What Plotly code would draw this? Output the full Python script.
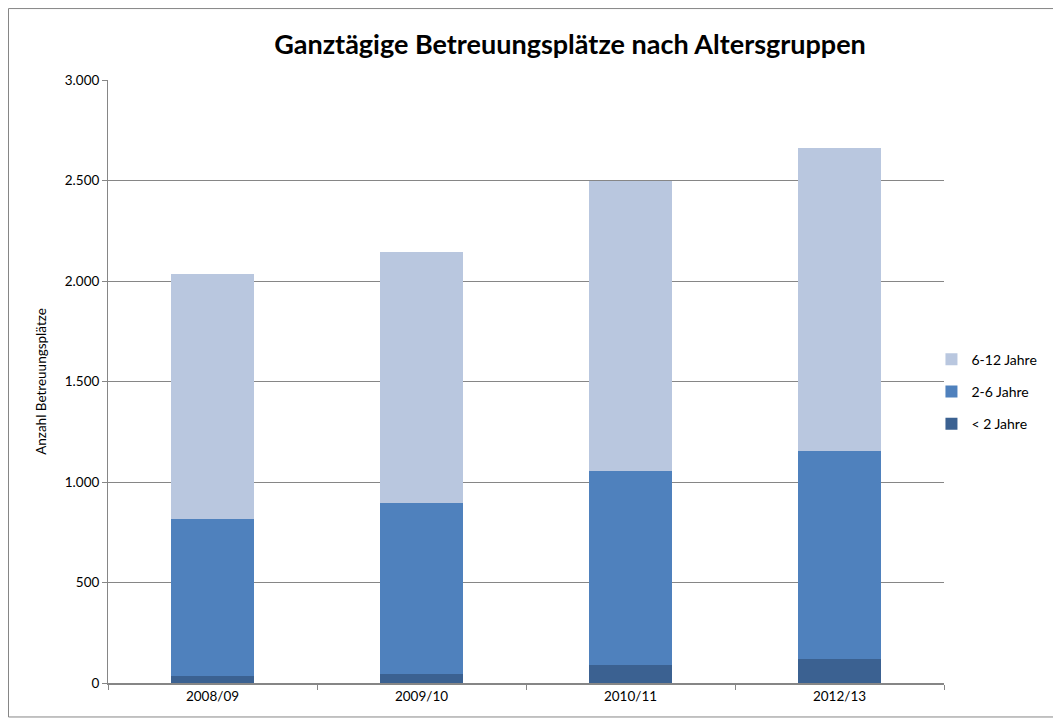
import plotly.graph_objects as go

categories = ["2008/09", "2009/10", "2010/11", "2012/13"]
under_2 = [37, 47, 88, 118]
age_2_6 = [780, 848, 969, 1037]
age_6_12 = [1219, 1249, 1439, 1506]
y_ticks = [0, 500, 1000, 1500, 2000, 2500, 3000]

FONT = "Lato, 'Open Sans', sans-serif"

# figure is offset by the 8px page margin in the browser
W, H = 1053, 711
L, T = 100, 72
PW, PH = 836, 603.5
R = W - L - PW
B = H - T - PH

fig = go.Figure()
fig.add_trace(go.Bar(x=categories, y=under_2, name="< 2 Jahre", legendgroup="c", legendrank=3,
                     marker=dict(color="#3B6191", line=dict(width=0))))
fig.add_trace(go.Bar(x=categories, y=age_2_6, name="2-6 Jahre", legendgroup="b", legendrank=2,
                     marker=dict(color="#4F81BD", line=dict(width=0))))
fig.add_trace(go.Bar(x=categories, y=age_6_12, name="6-12 Jahre", legendgroup="a", legendrank=1,
                     marker=dict(color="#B9C7DF", line=dict(width=0))))

fig.update_layout(
    barmode="stack",
    bargap=0.6,
    width=W, height=H,
    margin=dict(l=L, r=R, t=T, b=B),
    paper_bgcolor="white", plot_bgcolor="white",
    separators=",.",
    font=dict(family=FONT, size=13, color="#000000"),
    title=dict(text="<b>Ganztägige Betreuungsplätze nach Altersgruppen</b>",
               x=562/W, xanchor="center", xref="container",
               y=1-37/H, yanchor="middle", yref="container",
               font=dict(size=27, family=FONT, color="#000000")),
    legend=dict(traceorder="grouped", x=0.985, xanchor="left", y=0.483, yanchor="middle",
                font=dict(size=14, family=FONT), itemwidth=30, tracegroupgap=11,
                bgcolor="rgba(0,0,0,0)"),
    showlegend=True,
)
fig.update_xaxes(showline=True, linecolor="#868686", linewidth=1.5, ticks="outside",
                 tickson="boundaries", ticklen=5, tickcolor="#868686",
                 showgrid=False, tickfont=dict(size=13.5))
fig.update_yaxes(range=[0, 3000], tickvals=y_ticks, tickformat=",.0f",
                 showline=True, linecolor="#868686", linewidth=1, ticks="outside",
                 ticklen=5, tickcolor="#868686", showgrid=True, gridcolor="#868686",
                 gridwidth=1, zeroline=False,
                 title=dict(text="Anzahl Betreuungsplätze", font=dict(size=13.5), standoff=15),
                 tickfont=dict(size=13.5))

# outer chart border
fig.add_shape(type="rect", xref="paper", yref="paper",
              x0=(0.5-L)/PW, x1=(W-1.5-L)/PW, y0=(T+PH-(H-1.5))/PH, y1=(T+PH-0.5)/PH,
              line=dict(color="#868686", width=1), fillcolor="rgba(0,0,0,0)", layer="below")

fig.write_html("out.html")
